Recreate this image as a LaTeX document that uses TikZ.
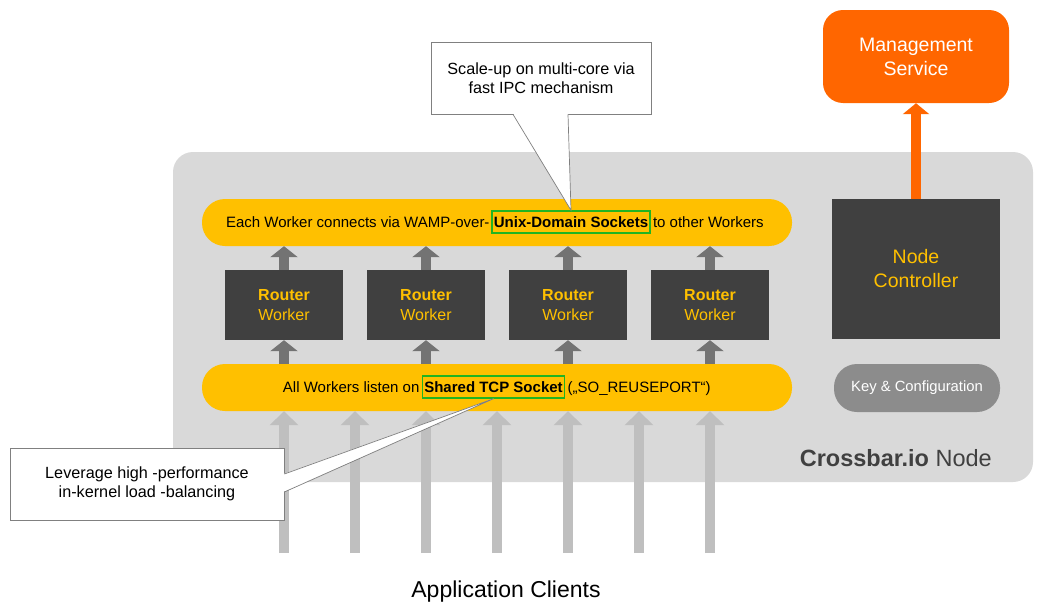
\documentclass[tikz,border=0pt]{standalone}
\usepackage{fontspec}
\setmainfont{Liberation Sans}
\usetikzlibrary{arrows.meta, calc}
\definecolor{nodegray}{HTML}{D9D9D9}
\definecolor{baryellow}{HTML}{FFC000}
\definecolor{workerdark}{HTML}{404040}
\definecolor{mgmtorange}{HTML}{FF6600}
\definecolor{keygray}{HTML}{8C8C8C}
\definecolor{sockgreen}{HTML}{22B422}
\definecolor{uparrow}{HTML}{737373}
\definecolor{clientgray}{HTML}{BFBFBF}
\newcommand{\cbname}{\textbf{Crossbar.io} Node}

\begin{document}
\begin{tikzpicture}[x=1pt, y=-1pt, every node/.style={align=center, inner sep=0pt},
	bar/.style={fill=baryellow, rounded corners=23pt, minimum width=590pt, minimum height=47pt},
	bartext/.style={font=\fontsize{15}{18}\selectfont},
	sockbox/.style={draw=sockgreen, line width=1.4pt, inner xsep=2pt, minimum height=22pt,
		font=\fontsize{15}{18}\selectfont\bfseries},
	worker/.style={fill=workerdark, text=baryellow, minimum width=118pt, minimum height=70pt,
		font=\fontsize{16}{20}\selectfont},
	note/.style={draw=gray, line width=0.7pt, fill=white, font=\fontsize{16.2}{19}\selectfont},
	notepointer/.style={draw=gray, line width=0.7pt},
	workerarrow/.style={draw=uparrow, line width=10pt, -{Triangle[width=27pt,length=11pt]}},
	clientarrow/.style={draw=clientgray, line width=10pt, -{Triangle[width=28pt,length=14pt]}},
	mgmtarrow/.style={draw=mgmtorange, line width=10pt, -{Triangle[width=26pt,length=11pt]}}]
\useasboundingbox (0,0) rectangle (1043,613);

\node[fill=nodegray, rounded corners=20pt, minimum width=860pt, minimum height=330pt] (crossbar) at (603,317) {};
\node[font=\fontsize{23.5}{27}\selectfont, text=workerdark, anchor=base east] (title) at (992,466) {\cbname};

\node[bar] (wampbar) at (497,222.5) {};
\node[sockbox] (uds) at (571,222) {Unix-Domain Sockets};
\node[bartext, anchor=base east] (wamptextl) at ([xshift=-1.5pt]uds.base west) {Each Worker connects via WAMP-over-};
\node[bartext, anchor=base west] (wamptextr) at ([xshift=2pt]uds.base east) {to other Workers};

\node[bar] (tcpbar) at (497,387.5) {};
\node[sockbox] (tcp) at (493.5,387) {Shared TCP Socket};
\node[bartext, anchor=base east] (tcptextl) at ([xshift=-2pt]tcp.base west) {All Workers listen on};
\node[bartext, anchor=base west] (tcptextr) at ([xshift=2pt]tcp.base east) {(„SO\_REUSEPORT“)};

\foreach \i/\x in {1/284, 2/426, 3/568, 4/710}
	\node[worker] (w\i) at (\x,305) {\textbf{Router}\\Worker};

\node[fill=workerdark, text=baryellow, minimum width=168pt, minimum height=140pt,
	font=\fontsize{19.5}{24}\selectfont] (ctrl) at (916,269) {Node\\Controller};
\node[fill=keygray, text=white, rounded corners=23pt, minimum width=166pt, minimum height=48pt,
	font=\fontsize{14.8}{17}\selectfont] (key) at (917,388) {Key \& Configuration};
\node[fill=mgmtorange, text=white, rounded corners=20pt, minimum width=186pt, minimum height=93pt,
	font=\fontsize{19.5}{24}\selectfont] (mgmt) at (916,56.5) {Management\\Service};

\draw[mgmtarrow] (ctrl.north) -- (mgmt.south);
\foreach \i in {1,...,4} {
	\draw[workerarrow] (w\i.north) -- (w\i |- wampbar.south);
	\draw[workerarrow] (w\i |- tcpbar.north) -- (w\i.south);
}
\foreach \i/\x in {1/284, 2/355, 3/426, 4/497, 5/568, 6/639, 7/710} {
	\coordinate (client\i) at (\x,553);
	\draw[clientarrow] (client\i) -- (client\i |- tcpbar.south);
}
\node[font=\fontsize{23}{26}\selectfont, anchor=base] (clients) at (506,597) {Application Clients};

\node[note, minimum width=220pt, minimum height=72pt] (ipc) at (541,78) {Scale-up on multi-core via\\fast IPC mechanism};
\fill[white] ($(ipc.south)+(-28,-1)$) -- (uds.north) -- ($(ipc.south)+(27,-1)$) -- cycle;
\draw[notepointer] ($(ipc.south)+(-28,0)$) -- (uds.north) -- ($(ipc.south)+(27,0)$);

\node[note, minimum width=274pt, minimum height=72pt] (lb) at (147,484) {Leverage high -performance\\in-kernel load -balancing};
\fill[white] ($(lb.east)+(-1,-10)$) -- (tcp.south) -- ($(lb.east)+(-1,8)$) -- cycle;
\draw[notepointer] ($(lb.east)+(0,-10)$) -- (tcp.south) -- ($(lb.east)+(0,8)$);
\end{tikzpicture}
\end{document}
